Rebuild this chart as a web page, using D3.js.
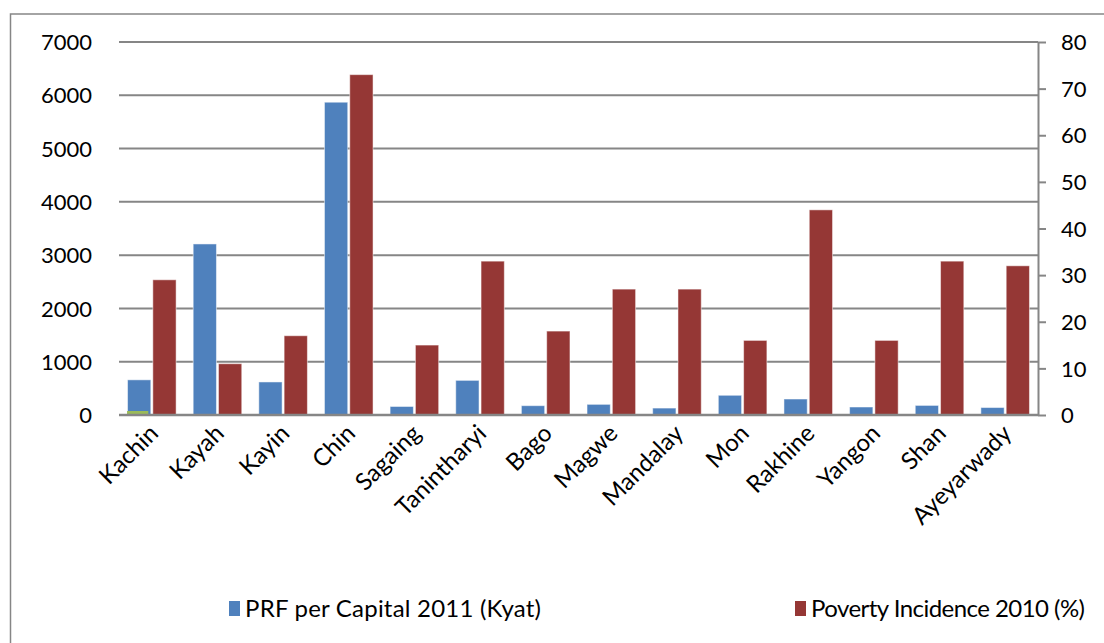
<!DOCTYPE html>
<html lang="en">
	<head>
		<meta charset="utf-8">
		<title>PRF per Capita vs Poverty Incidence</title>
		<script src="https://d3js.org/d3.v7.min.js"></script>
		<style>
			body{
				margin: 0;
				background: #fff;
			}
			text{
				font-family: Lato, 'Open Sans', sans-serif;
				fill: #000;
			}
		</style>
	</head>
	<body>
		<script>
			//Width and height
			var w = 1104;
			var h = 643;

			//Data
			var regions = ["Kachin", "Kayah", "Kayin", "Chin", "Sagaing", "Tanintharyi", "Bago",
						   "Magwe", "Mandalay", "Mon", "Rakhine", "Yangon", "Shan", "Ayeyarwady"];
			var prfPerCapita = [660, 3210, 620, 5870, 160, 650, 175, 200, 130, 370, 300, 150, 180, 140]; //Kyat
			var povertyIncidence = [29, 11, 17, 73, 15, 33, 18, 27, 27, 16, 44, 16, 33, 32]; //%
			var strayGreen = [75, 0, 0, 0, 0, 0, 0, 0, 0, 0, 0, 0, 0, 0]; //leftover series, no legend
			var leftTicks = [0, 1000, 2000, 3000, 4000, 5000, 6000, 7000];
			var rightTicks = [0, 10, 20, 30, 40, 50, 60, 70, 80];
			var seriesNames = ["PRF per Capital 2011 (Kyat)", "Poverty Incidence 2010 (%)"];

			var blue = "#4f81bd";
			var red = "#953735";
			var green = "#9bbb59";
			var grey = "#868686";

			//plot area
			var plotLeft = 119, plotRight = 1038, plotTop = 42, plotBottom = 415;

			var svg = d3.select("body")
						.append("svg")
						.attr("width", w)
						.attr("height", h);

			//outer frame (runs off the right/bottom edges)
			svg.append("rect")
				.attr("x", 10.5)
				.attr("y", 14)
				.attr("width", w + 20)
				.attr("height", h + 20)
				.attr("fill", "none")
				.attr("stroke", grey)
				.attr("stroke-width", 1.5);

			//scales
			var xScale = d3.scaleBand()
							.domain(regions)
							.range([plotLeft, plotRight])
							.paddingInner(0.26)
							.paddingOuter(0.13);

			var xInner = d3.scaleBand()
							.domain([0, 1])
							.range([0, xScale.bandwidth()])
							.paddingInner(0.08);

			var yLeft = d3.scaleLinear()
							.domain([0, 7000])
							.range([plotBottom, plotTop]);

			var yRight = d3.scaleLinear()
							.domain([0, 80])
							.range([plotBottom, plotTop]);

			//gridlines
			svg.append("g")
				.selectAll("line")
				.data(leftTicks)
				.enter()
				.append("line")
				.attr("x1", plotLeft)
				.attr("x2", plotRight)
				.attr("y1", function(d) { return yLeft(d); })
				.attr("y2", function(d) { return yLeft(d); })
				.attr("stroke", grey)
				.attr("stroke-width", 2);

			//left axis labels
			var leftAxis = d3.axisLeft(yLeft)
							.tickValues(leftTicks)
							.tickFormat(d3.format("d"))
							.tickSize(0)
							.tickPadding(27);
			var gl = svg.append("g")
				.attr("transform", "translate(" + plotLeft + ",0)")
				.call(leftAxis);
			gl.select(".domain").remove();
			gl.selectAll("text")
				.attr("font-size", "22px")
				.attr("font-family", "Lato, sans-serif")
				.attr("fill", "#000")
				.attr("dy", "0.35em");

			//right axis
			var rightAxis = d3.axisRight(yRight)
							.tickValues(rightTicks)
							.tickFormat(d3.format("d"))
							.tickSize(8)
							.tickSizeOuter(0)
							.tickPadding(15);
			var gr = svg.append("g")
				.attr("transform", "translate(" + plotRight + ",0)")
				.call(rightAxis);
			gr.select(".domain").attr("stroke", grey).attr("stroke-width", 2);
			gr.selectAll("line").attr("stroke", grey).attr("stroke-width", 2);
			gr.selectAll("text")
				.attr("font-size", "22px")
				.attr("font-family", "Lato, sans-serif")
				.attr("fill", "#000")
				.attr("dy", "0.35em");

			//bars - PRF (left axis)
			svg.append("g")
				.selectAll("rect")
				.data(prfPerCapita)
				.enter()
				.append("rect")
				.attr("x", function(d, i) { return xScale(regions[i]) + xInner(0); })
				.attr("y", function(d) { return yLeft(d); })
				.attr("width", xInner.bandwidth())
				.attr("height", function(d) { return plotBottom - yLeft(d); })
				.attr("fill", blue)
				.attr("stroke", "rgba(255,255,255,0.5)")
				.attr("stroke-width", 1);

			//bars - poverty (right axis)
			svg.append("g")
				.selectAll("rect")
				.data(povertyIncidence)
				.enter()
				.append("rect")
				.attr("x", function(d, i) { return xScale(regions[i]) + xInner(1); })
				.attr("y", function(d) { return yRight(d); })
				.attr("width", xInner.bandwidth())
				.attr("height", function(d) { return plotBottom - yRight(d); })
				.attr("fill", red)
				.attr("stroke", "rgba(255,255,255,0.5)")
				.attr("stroke-width", 1);

			//stray green bar
			svg.append("g")
				.selectAll("rect")
				.data(strayGreen)
				.enter()
				.filter(function(d) { return d > 0; })
				.append("rect")
				.attr("x", function(d, i) { return xScale(regions[strayGreen.indexOf(d)]) + xInner(0) - 0.5; })
				.attr("y", function(d) { return yLeft(d); })
				.attr("width", xInner.bandwidth() - 2)
				.attr("height", function(d) { return plotBottom - yLeft(d); })
				.attr("fill", green);

			//x axis line
			svg.append("line")
				.attr("x1", plotLeft)
				.attr("x2", plotRight)
				.attr("y1", plotBottom)
				.attr("y2", plotBottom)
				.attr("stroke", grey)
				.attr("stroke-width", 2.5);

			//category labels
			svg.append("g")
				.selectAll("text")
				.data(regions)
				.enter()
				.append("text")
				.text(function(d) { return d; })
				.attr("transform", function(d) {
					return "translate(" + (xScale(d) + xScale.bandwidth() / 2 - 4) + "," + 423 + ") rotate(-45)";
				})
				.attr("text-anchor", "end")
				.attr("dy", "0.7em")
				.attr("font-size", "24px");

			//legend
			var legendX = [229, 795];
			var legend = svg.append("g")
				.selectAll("g")
				.data(seriesNames)
				.enter()
				.append("g")
				.attr("transform", function(d, i) { return "translate(" + legendX[i] + ",601)"; });
			legend.append("rect")
				.attr("width", 11)
				.attr("height", 15)
				.attr("fill", function(d, i) { return i == 0 ? blue : red; });
			legend.append("text")
				.attr("x", 16)
				.attr("y", 8)
				.attr("dy", "0.35em")
				.attr("font-size", "24px")
				.attr("textLength", function(d, i) { return i == 0 ? 296 : 274; })
				.text(function(d) { return d; });
		</script>
	</body>
</html>
